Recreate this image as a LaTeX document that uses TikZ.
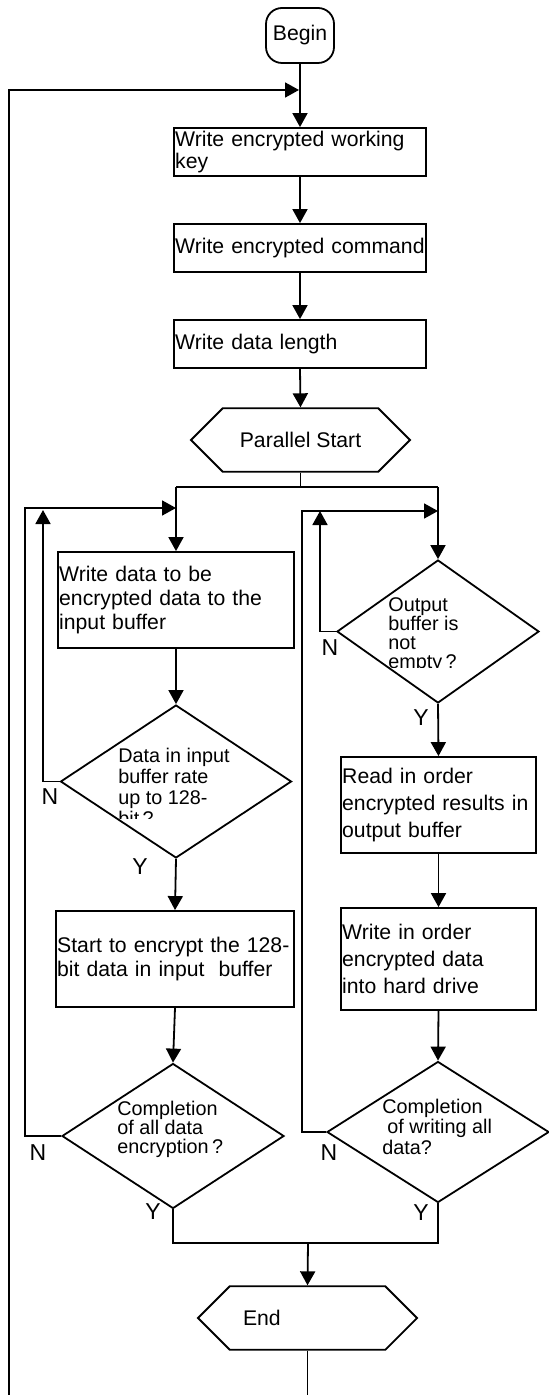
\documentclass[tikz,border=0pt]{standalone}
\usepackage{fontspec}
\setmainfont{Liberation Sans}
\usetikzlibrary{shapes,arrows,arrows.meta,positioning}

\tikzset{
    flowline/.style={line width=0.9pt},
    arrowline/.style={flowline, -{Triangle[length=7pt,width=7.5pt]}},
    startbox/.style={draw, line width=0.9pt, rounded corners=8pt, minimum width=34pt, minimum height=27.5pt, inner sep=0pt, font=\fontsize{10.6}{12}\selectfont},
    stepbox/.style n args={3}{draw, fill=white, line width=0.9pt, inner xsep=0.6pt, inner ysep=0pt, align=left, text width=#1, minimum height=#2, font=\fontsize{10.6}{#3}\selectfont},
    hexbox/.style={draw, line width=0.9pt, chamfered rectangle, chamfered rectangle xsep=22pt, chamfered rectangle ysep=12pt, minimum width=109.5pt, minimum height=24pt, inner sep=0pt, font=\fontsize{10.6}{12}\selectfont},
    askbox/.style={draw, line width=0.9pt, diamond, inner sep=0pt},
    asktext/.style={anchor=north west, inner sep=0pt, align=left, font=\fontsize{9.9}{#1}\selectfont},
    yesno/.style={inner sep=0pt, font=\fontsize{11.5}{12}\selectfont}
}

\begin{document}
\begin{tikzpicture}[x=0.5pt, y=-0.5pt]
    \useasboundingbox (0,0) rectangle (548,1395);

    % Main column
    \node[startbox] (begin) at (300,35.5) {Begin};
    \node[stepbox={124.8pt}{24pt}{11pt}] (b1) at (300,152) {Write encrypted working\\key};
    \node[stepbox={124.8pt}{24pt}{11pt}] (b2) at (300,248) {Write encrypted command};
    \node[stepbox={124.8pt}{24pt}{11pt}] (b3) at (300,344) {Write data length};
    \node[hexbox] (ps) at (300.5,440) {Parallel Start};

    % Left branch
    \node[stepbox={116.8pt}{48pt}{12pt}] (b4) at (176,600) {Write data to be\\encrypted data to the\\input buffer};
    \node[askbox, minimum width=115.5pt, minimum height=76.5pt] (q1) at (176,781.5) {};
    \begin{scope}
        \clip (100,730) rectangle (280,818);
        \node[asktext=10.5pt] (q1txt) at (118,747.5) {Data in input\\buffer rate\\up to 128-\\bit\,?};
    \end{scope}
    \node[yesno] (y1b) at (156,920) {Y};
    \node[stepbox={117.8pt}{48pt}{12pt}] (b5) at (175,959) {Start to encrypt the 128-\\bit data in input\ \ buffer};
    \node[askbox, minimum width=111pt, minimum height=72.5pt] (q3) at (173,1136) {};
    \node[asktext=9.5pt] (q3txt) at (117,1100.5) {Completion\\of all data\\encryption\,?};

    % Right branch
    \node[askbox, minimum width=101pt, minimum height=71.5pt] (q2) at (438,631.5) {};
    \begin{scope}
        \clip (360,580) rectangle (500,667);
        \node[asktext=9.5pt] (q2txt) at (388,597.5) {Output\\buffer is\\not\\empty\,?};
    \end{scope}
    \node[stepbox={96.3pt}{48pt}{13.5pt}] (b6) at (438.5,805) {Read in order\\encrypted results in\\output buffer};
    \node[stepbox={96.3pt}{51pt}{13.5pt}] (b7) at (438.5,959) {Write in order\\encrypted data\\into hard drive};
    \node[askbox, minimum width=111pt, minimum height=70.5pt] (q4) at (438,1132) {};
    \node[asktext=9.2pt] (q4txt) at (382,1098.5) {Completion\\\hspace*{2.5pt}of writing all\\data?};

    % End
    \node[hexbox] (end) at (307.5,1318) {\makebox[64.5pt][l]{End}};

    % Y / N labels
    \node[yesno] (n1) at (50,797) {N};
    \node[yesno] (y1) at (140,867) {Y};
    \node[yesno] (n2) at (330,648) {N};
    \node[yesno] (y2) at (421,718) {Y};
    \node[yesno] (n3) at (38,1153) {N};
    \node[yesno] (y3) at (153,1212) {Y};
    \node[yesno] (n4) at (329,1153) {N};
    \node[yesno] (y4) at (421,1213) {Y};

    % Connectors
    \coordinate (entry) at (299,90);
    \coordinate (splitL) at (176,487);
    \coordinate (splitR) at (438,487);
    \coordinate (backN1) at (43,510);
    \coordinate (backL) at (25,508);
    \coordinate (backN2) at (320,511);
    \coordinate (backR) at (302,511);
    \coordinate (join) at (308,1243);
    \coordinate (loopL) at (9,1420);

    \draw[arrowline] (begin.south) -- (b1.north);
    \draw[arrowline] (b1.south) -- (b2.north);
    \draw[arrowline] (b2.south) -- (b3.north);
    \draw[arrowline] (b3.south) -- (ps.north);
    \draw[flowline] (ps.south) -- (ps.south |- splitL);
    \draw[flowline] (splitL) -- (splitR);
    \draw[arrowline] (splitL) -- (b4.north);
    \draw[arrowline] (splitR) -- (q2.north);

    \draw[arrowline] (b4.south) -- (q1.north);
    \draw[arrowline] (q1.south) -- (b5.north);
    \draw[arrowline] (b5.south) -- (q3.north);
    \draw[arrowline] (q1.west) -| (backN1);
    \draw[arrowline] (q3.west) -| (backL) -- (backL -| splitL);

    \draw[arrowline] (q2.south) -- (b6.north);
    \draw[arrowline] (b6.south) -- (b7.north);
    \draw[arrowline] (b7.south) -- (q4.north);
    \draw[arrowline] (q2.west) -| (backN2);
    \draw[arrowline] (q4.west) -| (backR) -- (backR -| splitR);

    \draw[flowline] (q3.south) |- (join) -| (q4.south);
    \draw[arrowline] (join) -- (end.north);
    \draw[arrowline] (end.south) -- (end.south |- loopL) -- (loopL) |- (entry);
\end{tikzpicture}
\end{document}
